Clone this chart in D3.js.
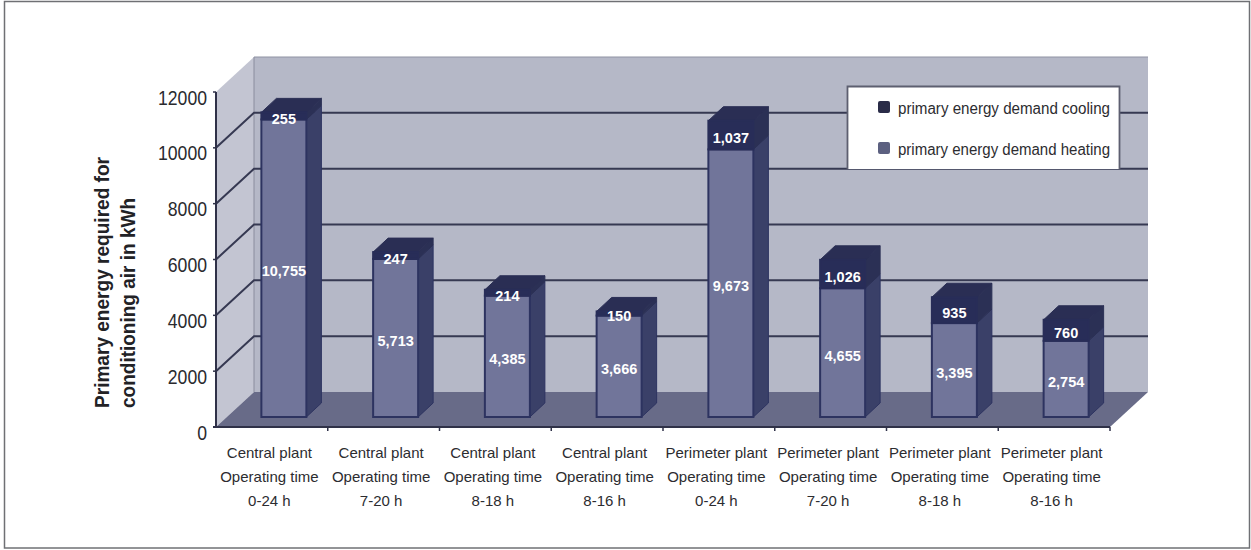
<!DOCTYPE html>
<html>
<head>
<meta charset="utf-8">
<script src="https://cdn.jsdelivr.net/npm/d3@7"></script>
<style>
  html, body { margin: 0; padding: 0; background: #fff; }
  svg { display: block; }
  text { font-family: "Liberation Sans", Arial, sans-serif; }
</style>
</head>
<body>
<svg id="chart" width="1251" height="550"></svg>
<script>
// Stacked pseudo-3D columns: primary energy by plant type and operating time.
const plantLines = ["Central plant", "Central plant", "Central plant", "Central plant",
                    "Perimeter plant", "Perimeter plant", "Perimeter plant", "Perimeter plant"];
const timeLines = ["0-24 h", "7-20 h", "8-18 h", "8-16 h", "0-24 h", "7-20 h", "8-18 h", "8-16 h"];
const heating = [10755, 5713, 4385, 3666, 9673, 4655, 3395, 2754];
const cooling = [255, 247, 214, 150, 1037, 1026, 935, 760];
const yTicks = [0, 2000, 4000, 6000, 8000, 10000, 12000];
const legendLabels = ["primary energy demand cooling", "primary energy demand heating"];
const titleLines = ["Primary energy required for", "conditioning air in kWh"];

const svg = d3.select("#chart");
const ids = d3.range(heating.length);

const x = d3.scaleBand().domain(ids).range([216, 1110]);
const y = d3.scaleLinear().domain([0, 12000]).range([427, 92]);
// Columns stand a little behind the axis plane, so they get their own vertical scale.
const yBar = d3.scaleLinear().domain([0, 12000]).range([417, 85]);

// Oblique projection of the box: wall depth and column depth.
const wall = { dx: 38, dy: -35 };
const col = { dx: 15, dy: -14 };
const barShift = 12;
const barW = 45;

const c = {
  wallBack: "#b5b8c7", wallSide: "#c3c5d2", floor: "#686b88",
  grid: "#363952", axis: "#2f3148",
  heatFront: "#71759a", heatSide: "#3a4068", heatEdge: "#2d3360",
  coolFront: "#282d58", coolSide: "#2b3055", coolTop: "#2a2e54"
};

const poly = pts => pts.map(p => p.join(",")).join(" ");

// Outer frame
svg.append("rect").attr("x", 4.5).attr("y", 1.5).attr("width", 1245).attr("height", 546.5)
  .attr("fill", "#fff").attr("stroke", "#6f7074").attr("stroke-width", 1.5);

const plane = svg.append("g");
const x0 = x.range()[0], x1 = x.range()[1];

// Side wall, back wall and floor
plane.append("polygon").attr("fill", c.wallSide)
  .attr("points", poly([[x0, y(12000)], [x0 + wall.dx, y(12000) + wall.dy], [x0 + wall.dx, y(0) + wall.dy], [x0, y(0)]]));
plane.append("polygon").attr("fill", c.wallBack)
  .attr("points", poly([[x0 + wall.dx, y(12000) + wall.dy], [x1 + wall.dx, y(12000) + wall.dy], [x1 + wall.dx, y(0) + wall.dy], [x0 + wall.dx, y(0) + wall.dy]]));
plane.append("polygon").attr("fill", c.floor)
  .attr("points", poly([[x0, y(0)], [x0 + wall.dx, y(0) + wall.dy], [x1 + wall.dx, y(0) + wall.dy], [x1, y(0)]]));
plane.append("line").attr("x1", x0 + wall.dx).attr("x2", x0 + wall.dx)
  .attr("y1", y(12000) + wall.dy).attr("y2", y(0) + wall.dy)
  .attr("stroke", "#8a8c9e").attr("stroke-width", 1);
plane.append("line").attr("x1", x0 + wall.dx).attr("x2", x1 + wall.dx)
  .attr("y1", y(12000) + wall.dy).attr("y2", y(12000) + wall.dy)
  .attr("stroke", "#8f92a3").attr("stroke-width", 1);

// Gridlines run along the side wall and across the back wall
const gridTicks = yTicks.filter(t => t > 0 && t < 12000);
const grid = plane.append("g").attr("fill", "none").attr("stroke", c.grid).attr("stroke-width", 2);
grid.selectAll("polyline").data(gridTicks).join("polyline")
  .attr("points", t => poly([[x0, y(t)], [x0 + wall.dx, y(t) + wall.dy], [x1 + wall.dx, y(t) + wall.dy]]));

// Legend panel sits on the back wall
const legend = svg.append("g");
legend.append("rect").attr("x", 847).attr("y", 86).attr("width", 273).attr("height", 83)
  .attr("fill", "#fff");
legend.append("path").attr("d", "M847.5,169V86.5H1119.5V169").attr("fill", "none")
  .attr("stroke", "#5d5f70").attr("stroke-width", 1.8);
[107, 148].forEach((cy, i) => {
  legend.append("rect").attr("x", 878).attr("y", cy - 6).attr("width", 12).attr("height", 12)
    .attr("rx", 2).attr("fill", i ? "#5c6080" : "#2a2c48");
  legend.append("text").attr("x", 898).attr("y", cy + 7).attr("font-size", 16)
    .attr("textLength", 212).attr("lengthAdjust", "spacingAndGlyphs")
    .attr("fill", "#2c2c30").text(legendLabels[i]);
});

// Columns
const barLayer = svg.append("g");
const left = i => x(i) + (x.bandwidth() - barW) / 2 + barShift;
const fmt = d3.format(",");

barLayer.selectAll("g").data(ids).join("g").each(function (i) {
  const g = d3.select(this);
  const l = left(i), r = l + barW;
  const h = heating[i], t = h + cooling[i];

  const sidePts = (a, b) => poly([[r, yBar(a)], [r + col.dx, yBar(a) + col.dy], [r + col.dx, yBar(b) + col.dy], [r, yBar(b)]]);
  g.append("polygon").attr("points", sidePts(0, h)).attr("fill", c.heatSide).attr("stroke", c.heatEdge);
  g.append("polygon").attr("points", sidePts(h, t)).attr("fill", c.coolSide).attr("stroke", c.coolSide);
  g.append("polygon").attr("fill", c.coolTop).attr("stroke", c.coolTop)
    .attr("points", poly([[l, yBar(t)], [l + col.dx, yBar(t) + col.dy], [r + col.dx, yBar(t) + col.dy], [r, yBar(t)]]));
  g.append("rect").attr("x", l).attr("width", barW).attr("y", yBar(h)).attr("height", yBar(0) - yBar(h))
    .attr("fill", c.heatFront).attr("stroke", c.heatEdge).attr("stroke-width", 2);
  g.append("rect").attr("x", l).attr("width", barW).attr("y", yBar(t)).attr("height", yBar(h) - yBar(t))
    .attr("fill", c.coolFront).attr("stroke", c.coolFront).attr("stroke-width", 2);

  const cx = l + barW / 2;
  const label = (v, yy) => g.append("text").attr("x", cx).attr("y", yy).attr("text-anchor", "middle")
    .attr("font-size", 14.5).attr("font-weight", "bold").attr("fill", "#fff").text(fmt(v));
  label(h, yBar(h / 2) + 8);
  label(cooling[i], yBar(h + cooling[i] / 2) + 8);
});

// Value axis and floor edge
const axis = svg.append("g").attr("stroke", c.axis);
axis.append("line").attr("x1", x0).attr("x2", x0).attr("y1", y(12000)).attr("y2", y(0)).attr("stroke-width", 2);
axis.append("line").attr("x1", x0 - 3).attr("x2", x1).attr("y1", y(0)).attr("y2", y(0)).attr("stroke-width", 2);
axis.selectAll("line.tick").data(yTicks).join("line").attr("class", "tick")
  .attr("x1", x0 - 3).attr("x2", x0).attr("y1", d => y(d)).attr("y2", d => y(d)).attr("stroke-width", 1.5);
axis.selectAll("line.xtick").data(ids.map(i => i + 1)).join("line").attr("class", "xtick")
  .attr("x1", i => x0 + i * x.bandwidth()).attr("x2", i => x0 + i * x.bandwidth())
  .attr("y1", y(0)).attr("y2", y(0) + 4).attr("stroke-width", 1.5);

// Y tick labels, drawn tall and slightly condensed
svg.append("g").selectAll("text").data(yTicks).join("text")
  .attr("x", 207).attr("y", d => y(d) + 12.5).attr("text-anchor", "end")
  .attr("font-size", 21).attr("fill", "#2a2a2e")
  .attr("textLength", d => String(d).length * 9.8).attr("lengthAdjust", "spacingAndGlyphs")
  .text(d => d);

// Category labels, three lines each
const cats = svg.append("g").selectAll("g").data(ids).join("g")
  .attr("transform", i => `translate(${x(i) + x.bandwidth() / 2 - 2.5},0)`)
  .attr("text-anchor", "middle").attr("font-size", 15).attr("fill", "#2c2c30");
cats.append("text").attr("y", 458).text(i => plantLines[i]);
cats.append("text").attr("y", 482).text("Operating time");
cats.append("text").attr("y", 506).text(i => timeLines[i]);

// Y axis title, both lines start at the same height
svg.append("g").selectAll("text").data(titleLines).join("text")
  .attr("transform", (d, i) => `translate(${109 + i * 26},408) rotate(-90)`)
  .attr("font-size", 20.5).attr("font-weight", "bold").attr("fill", "#222226")
  .attr("textLength", (d, i) => [251, 210][i]).attr("lengthAdjust", "spacingAndGlyphs")
  .text(d => d);
</script>
</body>
</html>
